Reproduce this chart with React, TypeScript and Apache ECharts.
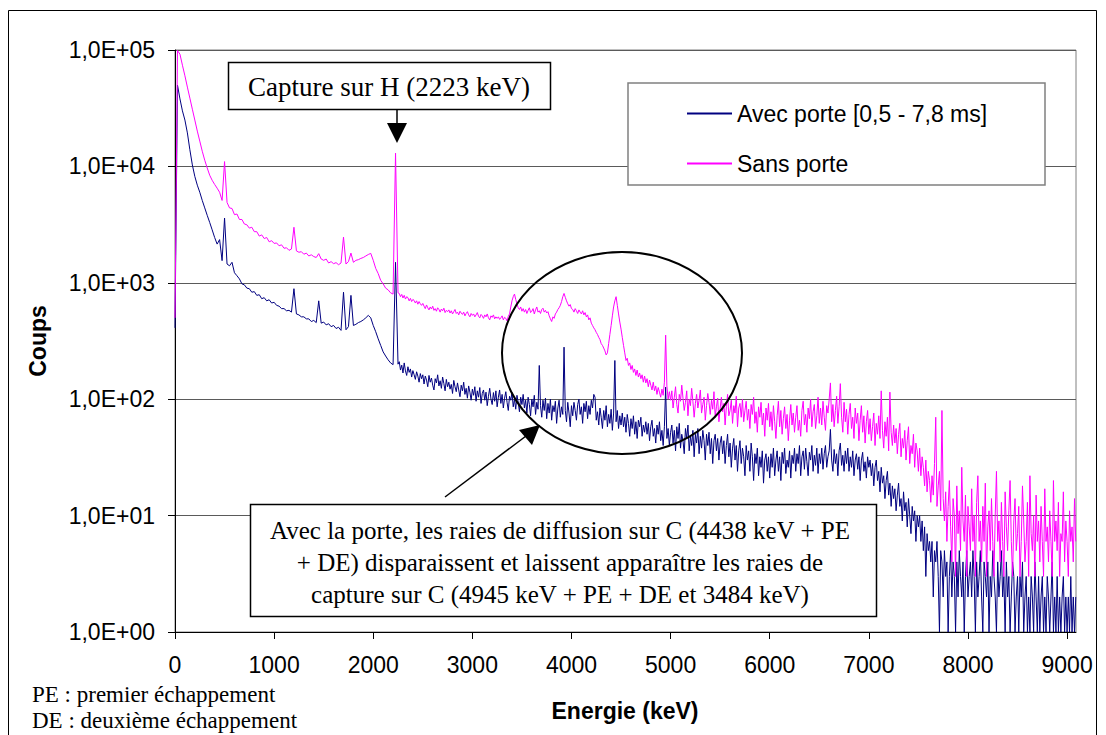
import React, { useEffect, useRef } from 'react';
import * as echarts from 'echarts';

// Channel grid: coarse below 2250 keV, fine above
const COARSE_STEP_KEV = 25;
const FINE_START_KEV = 2262.5;
const FINE_STEP_KEV = 12.5;

const X_TICKS = [0, 1000, 2000, 3000, 4000, 5000, 6000, 7000, 8000, 9000];
const X_MAX = 9090;
const Y_MIN = 1;
const Y_MAX = 100000;

const SERIES_AVEC = 'Avec porte [0,5 - 7,8 ms]';
const SERIES_SANS = 'Sans porte';

// "Avec porte" counts, 0 .. 2250 keV every 25 keV
const avecPorteLow = [
  410, 50000, 38000, 30000, 25000, 19400, 13900, 10300, 8200, 6900, 6000, 5100, 4400, 3800, 3300, 2850, 2450, 2150, 2350, 1550,
  3600, 1450, 1400, 1500, 1220, 1150, 1080, 980, 960, 900, 890, 830, 840, 780, 790, 730, 745, 700, 715, 670,
  680, 640, 630, 600, 600, 575, 580, 560, 890, 540, 530, 510, 510, 490, 490, 465, 475, 455, 700, 450,
  460, 435, 445, 420, 430, 405, 415, 390, 830, 395, 420, 780, 430, 440, 455, 465, 480, 500, 525, 500,
  430, 380, 330, 290, 255, 235, 218, 205, 198, 1500, 200,
];

// "Avec porte" counts, 2262.5 .. 9087.5 keV every 12.5 keV
const avecPorteHigh = [
  210, 178, 196, 168, 205, 175, 160, 190, 170, 182, 155, 176, 162, 148, 172, 158, 140, 166, 150, 162,
  135, 158, 146, 128, 160, 140, 152, 132, 120, 150, 138, 162, 130, 144, 124, 155, 136, 118, 148, 128,
  140, 122, 134, 112, 145, 128, 116, 138, 120, 105, 132, 118, 140, 110, 124, 102, 130, 115, 98, 122,
  108, 128, 96, 118, 104, 126, 92, 112, 120, 98, 115, 88, 106, 124, 100, 90, 114, 96, 118, 86,
  104, 120, 92, 110, 84, 102, 116, 94, 80, 106, 98, 114, 86, 100, 82, 108, 94, 78, 104, 90,
  110, 84, 98, 76, 104, 90, 72, 100, 86, 108, 74, 94, 82, 195, 88, 70, 98, 80, 102, 68,
  92, 76, 100, 66, 88, 78, 96, 62, 84, 98, 70, 86, 74, 280, 80, 64, 94, 76, 58, 88,
  72, 94, 80, 66, 90, 100, 74, 86, 62, 92, 78, 96, 68, 88, 74, 98, 84, 110, 104, 66,
  78, 60, 84, 70, 56, 80, 66, 88, 58, 74, 62, 82, 54, 76, 215, 64, 80, 56, 72, 60,
  76, 58, 70, 52, 74, 62, 48, 68, 56, 72, 50, 64, 46, 66, 58, 70, 48, 60, 52, 64,
  50, 62, 44, 58, 66, 48, 56, 42, 60, 50, 64, 44, 54, 40, 58, 127, 46, 56, 40, 52,
  60, 42, 54, 36, 58, 46, 62, 38, 50, 44, 34, 56, 46, 60, 36, 48, 40, 54, 32, 50,
  42, 56, 34, 48, 38, 54, 44, 30, 50, 40, 52, 34, 46, 28, 44, 50, 36, 46, 30, 42,
  48, 34, 44, 28, 40, 50, 32, 42, 26, 38, 46, 30, 40, 24, 36, 44, 28, 38, 32, 22,
  40, 30, 36, 24, 42, 32, 20, 34, 28, 38, 22, 32, 26, 36, 19, 30, 34, 24, 32, 21,
  34, 26, 38, 22, 30, 36, 24, 32, 20, 35, 28, 38, 23, 30, 26, 36, 21, 33, 28, 38,
  24, 34, 28, 40, 22, 32, 36, 25, 38, 29, 22, 35, 30, 40, 24, 33, 27, 38, 23, 34,
  28, 38, 25, 34, 40, 26, 32, 36, 55, 30, 24, 37, 28, 34, 22, 36, 42, 27, 33, 24,
  36, 28, 38, 24, 32, 26, 36, 22, 30, 34, 25, 32, 20, 30, 35, 24, 29, 21, 32, 26,
  30, 22, 28, 18, 26, 30, 20, 24, 16, 26, 19, 22, 14, 20, 24, 15, 19, 12, 18, 14,
  17, 11, 15, 19, 12, 14, 9, 16, 11, 13, 8, 14, 10, 7, 12, 9, 11, 6, 10, 8,
  10, 6, 9, 5, 8, 3, 7, 5, 6, 4, 6, 2, 5, 4, 6, 3, 1, 5, 4, 2,
  5, 3, 4, 1, 3, 5, 2, 4, 3, 1, 4, 2, 5, 3, 2, 4, 1, 3, 5, 2,
  3, 4, 2, 5, 3, 1, 4, 2, 3, 5, 2, 1, 4, 3, 2, 4, 1, 3, 2, 5,
  3, 2, 1, 4, 2, 3, 5, 2, 3, 1, 4, 2, 3, 1, 2, 4, 3, 1, 2, 3,
  1, 3, 2, 4, 1, 2, 3, 1, 2, 1, 3, 2, 1, 4, 2, 1, 3, 1, 2, 3,
  1, 2, 1, 3, 2, 1, 2, 4, 1, 2, 1, 3, 1, 2, 1, 2, 3, 1, 2, 1,
  2, 1, 3, 1, 2, 1, 2,
];

// "Sans porte" counts, 0 .. 2250 keV every 25 keV
const sansPorteLow = [
  500, 99000, 92000, 74000, 60000, 48000, 38600, 31000, 25000, 20100, 16500, 13500, 11300, 9700, 8400, 7600, 7000, 6500, 6000, 5100,
  11000, 4900, 4400, 4350, 3850, 3900, 3500, 3500, 3200, 3150, 2950, 3000, 2750, 2750, 2520, 2580, 2400, 2450, 2250, 2300,
  2180, 2200, 2080, 2120, 1980, 2000, 1900, 1950, 3000, 1880, 1830, 1850, 1760, 1800, 1700, 1740, 1680, 1650, 1780, 1600,
  1560, 1600, 1480, 1520, 1460, 1490, 1430, 1480, 2470, 1450, 1520, 1800, 1500, 1560, 1580, 1620, 1650, 1700, 1750, 1790,
  1560, 1330, 1200, 1050, 980, 900, 870, 820, 800, 13000, 820,
];

// "Sans porte" counts, 2262.5 .. 9087.5 keV every 12.5 keV
const sansPorteHigh = [
  810, 760, 795, 740, 780, 725, 760, 745, 700, 735, 690, 720, 705, 670, 700, 655, 690, 660, 640, 665,
  630, 600, 645, 610, 585, 620, 595, 630, 580, 600, 570, 610, 590, 560, 595, 575, 605, 555, 580, 565,
  585, 550, 575, 540, 565, 590, 545, 560, 530, 570, 550, 535, 560, 520, 545, 565, 530, 510, 545, 525,
  540, 510, 530, 555, 515, 500, 535, 520, 495, 530, 510, 540, 500, 480, 520, 505, 530, 490, 510, 495,
  510, 485, 500, 520, 480, 505, 495, 470, 515, 540, 620, 700, 760, 800, 720, 660, 610, 590, 620, 570,
  600, 560, 590, 545, 580, 610, 555, 570, 600, 540, 585, 620, 560, 575, 545, 590, 605, 560, 580, 550,
  565, 520, 490, 465, 510, 495, 540, 560, 590, 610, 640, 690, 760, 810, 750, 700, 660, 630, 650, 600,
  590, 560, 600, 575, 545, 585, 560, 540, 575, 530, 555, 510, 530, 480, 500, 450, 430, 410, 395, 375,
  360, 340, 325, 300, 290, 275, 260, 240, 250, 300, 360, 430, 520, 620, 700, 760, 640, 540, 460, 400,
  340, 290, 250, 215, 225, 195, 205, 180, 195, 170, 182, 160, 178, 155, 168, 150, 162, 140, 158, 138,
  150, 128, 146, 132, 120, 140, 118, 130, 110, 126, 115, 104, 122, 108, 140, 355, 130, 100, 116, 98,
  118, 84, 104, 128, 90, 76, 110, 96, 132, 102, 80, 94, 118, 72, 100, 88, 124, 96, 70, 92,
  110, 84, 98, 120, 76, 90, 104, 66, 88, 112, 94, 74, 98, 82, 116, 70, 86, 102, 64, 84,
  104, 78, 92, 60, 86, 110, 72, 80, 98, 62, 88, 76, 106, 58, 84, 92, 70, 100, 64, 80,
  96, 66, 82, 56, 90, 74, 104, 62, 78, 52, 86, 70, 94, 60, 76, 48, 84, 66, 92, 58,
  78, 54, 88, 64, 46, 72, 96, 58, 80, 50, 68, 86, 56, 74, 44, 66, 90, 60, 76, 52,
  70, 88, 54, 66, 48, 80, 96, 60, 74, 52, 84, 68, 100, 58, 78, 90, 56, 72, 104, 62,
  84, 60, 96, 70, 54, 88, 76, 100, 138, 64, 90, 58, 80, 106, 62, 86, 136, 70, 52, 94,
  64, 82, 50, 74, 92, 56, 70, 46, 84, 62, 76, 44, 66, 88, 52, 72, 42, 64, 80, 50,
  68, 44, 58, 76, 40, 62, 50, 72, 46, 118, 54, 38, 64, 48, 70, 36, 115, 52, 40, 60,
  42, 56, 34, 50, 62, 32, 46, 38, 54, 30, 44, 58, 28, 40, 34, 50, 26, 42, 36, 24,
  38, 22, 32, 26, 18, 30, 16, 24, 20, 13, 22, 15, 28, 70, 12, 18, 24, 11, 80, 14,
  9, 16, 6, 12, 20, 8, 4, 14, 10, 3, 18, 7, 11, 5, 26, 9, 6, 15, 3, 12,
  8, 5, 17, 6, 10, 3, 13, 22, 6, 9, 4, 12, 6, 19, 3, 8, 11, 5, 14, 6,
  3, 10, 24, 6, 9, 4, 13, 6, 3, 16, 8, 5, 11, 20, 6, 3, 9, 14, 5, 7,
  12, 3, 6, 18, 9, 4, 6, 13, 3, 22, 7, 5, 10, 3, 15, 6, 9, 4, 12, 6,
  3, 17, 6, 8, 4, 11, 6, 3, 20, 6, 9, 5, 13, 3, 7, 6, 16, 4, 9, 6,
  3, 11, 6, 8, 4, 14, 6,
];

const CAPTURE_LABEL = 'Capture sur H (2223 keV)';
const NOTE_LINES = [
  'Avec la porte, les raies de diffusion sur C (4438 keV + PE',
  '+ DE) disparaissent et laissent apparaître les raies de',
  'capture sur C (4945 keV + PE + DE et 3484 keV)',
];
const FOOT_LINES = ['PE : premier échappement', 'DE : deuxième échappement'];

const SANS = 'Liberation Sans, Arial, sans-serif';
const SERIF = 'Liberation Serif, Times New Roman, serif';

function toPairs(low: number[], high: number[]) {
  const a = low.map((v, i) => [i * COARSE_STEP_KEV, v]);
  const b = high.map((v, j) => [FINE_START_KEV + j * FINE_STEP_KEV, v]);
  return a.concat(b);
}

export default function App() {
  const ref = useRef<HTMLDivElement>(null);

  useEffect(() => {
    if (!ref.current) return;
    const chart = echarts.init(ref.current, null, { renderer: 'svg' });

    chart.setOption({
      animation: false,
      backgroundColor: '#ffffff',
      grid: {
        left: 175,
        top: 50,
        right: 30,
        bottom: 103,
        show: true,
        borderColor: '#808080',
        borderWidth: 1,
        backgroundColor: 'transparent',
      },
      xAxis: {
        type: 'value',
        min: 0,
        max: X_MAX,
        interval: 1000,
        axisLine: { show: true, onZero: false, lineStyle: { color: '#000', width: 1 } },
        axisTick: { show: true, customValues: X_TICKS, length: 7, lineStyle: { color: '#000' } },
        axisLabel: {
          customValues: X_TICKS,
          fontSize: 23,
          fontFamily: SANS,
          color: '#000',
          margin: 21,
          formatter: (v: number) => String(v),
        },
        splitLine: { show: false },
      },
      yAxis: {
        type: 'log',
        logBase: 10,
        min: Y_MIN,
        max: Y_MAX,
        axisLine: { show: true, lineStyle: { color: '#000', width: 1 } },
        axisTick: { show: true, length: 7, lineStyle: { color: '#000' } },
        axisLabel: {
          fontSize: 23,
          fontFamily: SANS,
          color: '#000',
          margin: 20,
          formatter: (v: number) => '1,0E+0' + Math.round(Math.log10(v)),
        },
        splitLine: { show: true, lineStyle: { color: '#5a5a5a', width: 1 } },
      },
      legend: {
        show: true,
        orient: 'vertical',
        left: 682,
        top: 97,
        itemGap: 27,
        itemWidth: 45,
        itemHeight: 2,
        icon: 'rect',
        z: 20,
        textStyle: { fontSize: 23, fontFamily: SANS, color: '#000' },
        data: [SERIES_AVEC, SERIES_SANS],
      },
      series: [
        {
          name: SERIES_AVEC,
          type: 'line',
          data: toPairs(avecPorteLow, avecPorteHigh),
          showSymbol: false,
          symbol: 'none',
          lineStyle: { color: '#000080', width: 1 },
          itemStyle: { color: '#000080' },
          z: 2,
        },
        {
          name: SERIES_SANS,
          type: 'line',
          data: toPairs(sansPorteLow, sansPorteHigh),
          showSymbol: false,
          symbol: 'none',
          lineStyle: { color: '#ff00ff', width: 1 },
          itemStyle: { color: '#ff00ff' },
          z: 3,
        },
      ],
      graphic: [
        {
          type: 'rect',
          z: 1,
          silent: true,
          shape: { x: 8.5, y: 10.5, width: 1088, height: 760 },
          style: { fill: 'none', stroke: '#000', lineWidth: 1 },
        },
        {
          type: 'rect',
          z: 15,
          silent: true,
          shape: { x: 628, y: 83, width: 417, height: 102 },
          style: { fill: '#fff', stroke: '#808080', lineWidth: 1.5 },
        },
        {
          type: 'text',
          z: 15,
          x: 38,
          y: 341,
          rotation: Math.PI / 2,
          style: {
            text: 'Coups',
            font: `bold 23px ${SANS}`,
            fill: '#000',
            textAlign: 'center',
            textVerticalAlign: 'middle',
          },
        },
        {
          type: 'text',
          z: 15,
          x: 625,
          y: 711,
          style: {
            text: 'Energie (keV)',
            font: `bold 23px ${SANS}`,
            fill: '#000',
            textAlign: 'center',
            textVerticalAlign: 'middle',
          },
        },
        ...FOOT_LINES.map((t, i) => ({
          type: 'text',
          z: 15,
          x: 32,
          y: 694 + i * 26,
          style: {
            text: t,
            font: `23px ${SERIF}`,
            fill: '#000',
            textAlign: 'left',
            textVerticalAlign: 'middle',
          },
        })),
        {
          type: 'rect',
          z: 15,
          shape: { x: 228.5, y: 62.5, width: 322, height: 47 },
          style: { fill: '#fff', stroke: '#000', lineWidth: 1.5 },
        },
        {
          type: 'text',
          z: 16,
          x: 389,
          y: 87,
          style: {
            text: CAPTURE_LABEL,
            font: `27px ${SERIF}`,
            fill: '#000',
            textAlign: 'center',
            textVerticalAlign: 'middle',
          },
        },
        {
          type: 'line',
          z: 15,
          shape: { x1: 397, y1: 110, x2: 397, y2: 126 },
          style: { stroke: '#000', lineWidth: 1.5 },
        },
        {
          type: 'polygon',
          z: 15,
          shape: { points: [[387, 123], [407, 123], [397, 143]] },
          style: { fill: '#000' },
        },
        {
          type: 'ellipse',
          z: 15,
          silent: true,
          shape: { cx: 622, cy: 353, rx: 120, ry: 101 },
          style: { fill: 'none', stroke: '#000', lineWidth: 2 },
        },
        {
          type: 'line',
          z: 15,
          shape: { x1: 445, y1: 497, x2: 530, y2: 433 },
          style: { stroke: '#000', lineWidth: 1.5 },
        },
        {
          type: 'polygon',
          z: 15,
          shape: { points: [[540, 425], [519, 430], [532, 445]] },
          style: { fill: '#000' },
        },
        {
          type: 'rect',
          z: 15,
          shape: { x: 250.5, y: 504.5, width: 626, height: 112 },
          style: { fill: '#fff', stroke: '#000', lineWidth: 1.5 },
        },
        ...NOTE_LINES.map((t, i) => ({
          type: 'text',
          z: 16,
          x: 560,
          y: 530 + i * 32,
          style: {
            text: t,
            font: `25px ${SERIF}`,
            fill: '#000',
            textAlign: 'center',
            textVerticalAlign: 'middle',
          },
        })),
      ],
    });

    return () => chart.dispose();
  }, []);

  return (
    <div
      ref={ref}
      style={{ position: 'fixed', left: 0, top: 0, width: 1106, height: 735, background: '#fff' }}
    />
  );
}
